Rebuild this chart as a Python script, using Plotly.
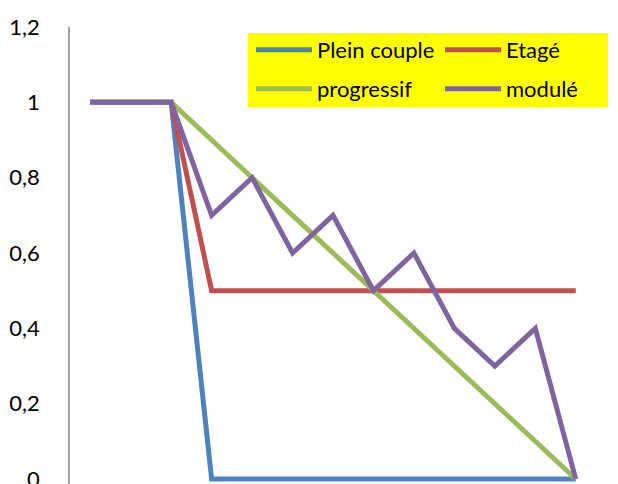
import plotly.graph_objects as go

x_idx = list(range(13))
plein_couple = [1, 1, 1, 0, 0, 0, 0, 0, 0, 0, 0, 0, 0]
etage = [1, 1, 1, 0.5, 0.5, 0.5, 0.5, 0.5, 0.5, 0.5, 0.5, 0.5, 0.5]
progressif = [1, 1, 1, 0.9, 0.8, 0.7, 0.6, 0.5, 0.4, 0.3, 0.2, 0.1, 0]
module = [1, 1, 1, 0.7, 0.8, 0.6, 0.7, 0.5, 0.6, 0.4, 0.3, 0.4, 0]
y_ticks = [0, 0.2, 0.4, 0.6, 0.8, 1, 1.2]
y_labels = ["0", "0,2", "0,4", "0,6", "0,8", "1", "1,2"]

series = [
    ("Plein couple", plein_couple, "#4F81BD", "legend"),
    ("Etagé", etage, "#C0504D", "legend"),
    ("progressif", progressif, "#9BBB59", "legend2"),
    ("modulé", module, "#8064A2", "legend2"),
]

# the page body has an 8px default margin; work in page pixels and shift back
OFF = 8
W, H = 618, 484
ML, MR, MT, MB = 62, 30, 19, 8
pw, ph = W - ML - MR, H - MT - MB

def px_x(x):
    return (x - OFF - ML) / pw

def px_y(y):
    return (H - MB - (y - OFF)) / ph

fig = go.Figure()
for name, vals, col, lg in series:
    fig.add_trace(go.Scatter(x=x_idx, y=vals, mode="lines", name=name, legend=lg,
                             line=dict(color=col, width=5)))

legfont = dict(family="Lato", size=22, color="black")
common = dict(orientation="h", xanchor="left", yanchor="middle",
              bgcolor="rgba(0,0,0,0)", entrywidth=118, itemwidth=56,
              font=legfont, traceorder="normal")

fig.update_layout(
    width=W, height=H,
    margin=dict(l=ML, r=MR, t=MT, b=MB, autoexpand=False),
    paper_bgcolor="white", plot_bgcolor="white",
    font=dict(family="Lato", size=22, color="black"),
    showlegend=True,
    legend=dict(x=px_x(251), y=px_y(50), **common),
    legend2=dict(x=px_x(251), y=px_y(89), **common),
    shapes=[dict(type="rect", xref="paper", yref="paper",
                 x0=px_x(248), x1=px_x(608), y0=px_y(107), y1=px_y(33),
                 fillcolor="#FFFF00", line=dict(width=0), layer="above")],
)
fig.update_xaxes(range=[-0.5, 12.5], showgrid=False, showline=False, zeroline=False,
                 showticklabels=False, ticks="", automargin=False)
fig.update_yaxes(range=[-0.0132, 1.2], tickvals=y_ticks, ticktext=y_labels,
                 showgrid=False, zeroline=False, showline=True, linecolor="#A0A0A0",
                 linewidth=1.5, ticks="", ticklabelstandoff=24, automargin=False)

fig.write_html("out.html")
